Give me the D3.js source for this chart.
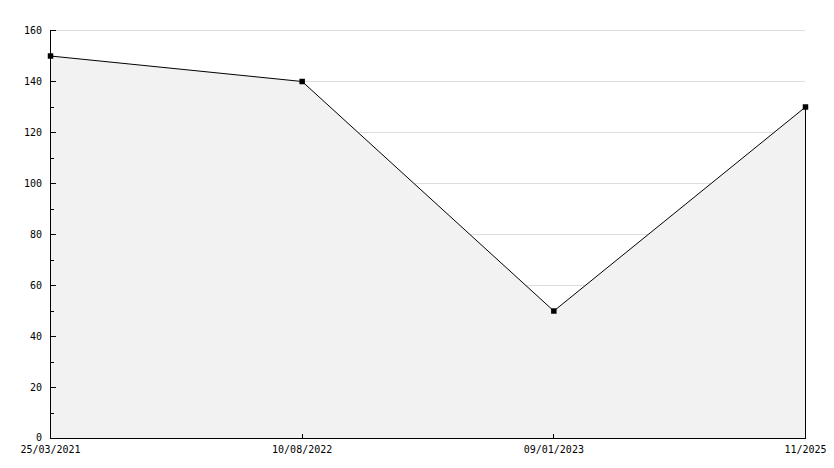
<!DOCTYPE html>
<html>
<head>
<meta charset="utf-8">
<script src="https://cdn.jsdelivr.net/npm/d3@7"></script>
<style>
  body { margin: 0; background: #fff; }
  text { font-family: "DejaVu Sans Mono", monospace; font-size: 10px; fill: #000; }
</style>
</head>
<body>
<div id="chart"></div>
<script>
var dates = ["25/03/2021", "10/08/2022", "09/01/2023", "11/2025"];
var values = [150, 140, 50, 130];
var yTicks = [0, 20, 40, 60, 80, 100, 120, 140, 160];
var yMinor = [10, 30, 50, 70, 90, 110, 130, 150];

var width = 834, height = 468;
var margin = {top: 30, right: 29, bottom: 30, left: 50};

var svg = d3.select("#chart").append("svg")
  .attr("width", width)
  .attr("height", height);

var x = d3.scalePoint()
  .domain(dates)
  .range([margin.left, width - margin.right]);

var y = d3.scaleLinear()
  .domain([0, 160])
  .range([height - margin.bottom, margin.top]);

var data = dates.map(function(d, i) { return {date: d, value: values[i]}; });

// grid
svg.append("g").selectAll("line")
  .data(yTicks.filter(function(t) { return t > 0; })).enter()
  .append("line")
  .attr("x1", x.range()[0])
  .attr("x2", x.range()[1])
  .attr("y1", function(d) { return y(d) + 0.5; })
  .attr("y2", function(d) { return y(d) + 0.5; })
  .style("stroke", "#dddddd")
  .style("shape-rendering", "crispEdges");

// area
var area = d3.area()
  .x(function(d) { return x(d.date) + 0.5; })
  .y0(y(0))
  .y1(function(d) { return y(d.value) + 0.5; });

svg.append("path")
  .datum(data)
  .attr("d", area)
  .style("fill", "#f2f2f2")
  .style("stroke", "none");

var line = d3.line()
  .x(function(d) { return x(d.date) + 0.5; })
  .y(function(d) { return y(d.value) + 0.5; });

svg.append("path")
  .datum(data)
  .attr("d", line)
  .style("fill", "none")
  .style("stroke", "#000")
  .style("stroke-width", 1);

// right edge of the fill
svg.append("line")
  .attr("x1", x(dates[dates.length - 1]) + 0.5)
  .attr("x2", x(dates[dates.length - 1]) + 0.5)
  .attr("y1", y(values[values.length - 1]))
  .attr("y2", y(0))
  .style("stroke", "#000")
  .style("shape-rendering", "crispEdges");

// y axis
var yAxis = svg.append("g")
  .attr("transform", "translate(" + (margin.left + 0.5) + ",0)")
  .call(d3.axisRight(y).tickValues(yTicks).tickSize(5).tickFormat(""));
yAxis.select(".domain").attr("d", "M0," + y(160) + "V" + y(0)).style("shape-rendering", "crispEdges");
yAxis.selectAll(".tick line").style("shape-rendering", "crispEdges");

svg.append("g").selectAll("line")
  .data(yMinor).enter()
  .append("line")
  .attr("x1", margin.left)
  .attr("x2", margin.left + 4)
  .attr("y1", function(d) { return y(d) + 0.5; })
  .attr("y2", function(d) { return y(d) + 0.5; })
  .style("stroke", "#000")
  .style("shape-rendering", "crispEdges");

svg.append("g").selectAll("text")
  .data(yTicks).enter()
  .append("text")
  .attr("x", margin.left - 8)
  .attr("y", function(d) { return d === 0 ? y(d) + 3 : y(d) + 4; })
  .style("text-anchor", "end")
  .text(function(d) { return d; });

// x axis
var xAxis = svg.append("g")
  .attr("transform", "translate(0," + (y(0) + 0.5) + ")")
  .call(d3.axisTop(x).tickSize(5).tickFormat(""));
xAxis.select(".domain").attr("d", "M" + x.range()[0] + ",0H" + (x.range()[1] + 1)).style("shape-rendering", "crispEdges");
xAxis.selectAll(".tick line").style("shape-rendering", "crispEdges");

svg.append("g").selectAll("text")
  .data(dates).enter()
  .append("text")
  .attr("x", function(d) { return x(d) + 0.5; })
  .attr("y", y(0) + 15)
  .style("text-anchor", "middle")
  .text(function(d) { return d; });

// markers
var star = d3.symbol().type(d3.symbolSquare).size(30);
svg.append("g").selectAll("path")
  .data(data).enter()
  .append("path")
  .attr("transform", function(d) { return "translate(" + (x(d.date) + 0.5) + "," + (y(d.value) + 0.5) + ")"; })
  .attr("d", star)
  .style("fill", "#000");
</script>
</body>
</html>
